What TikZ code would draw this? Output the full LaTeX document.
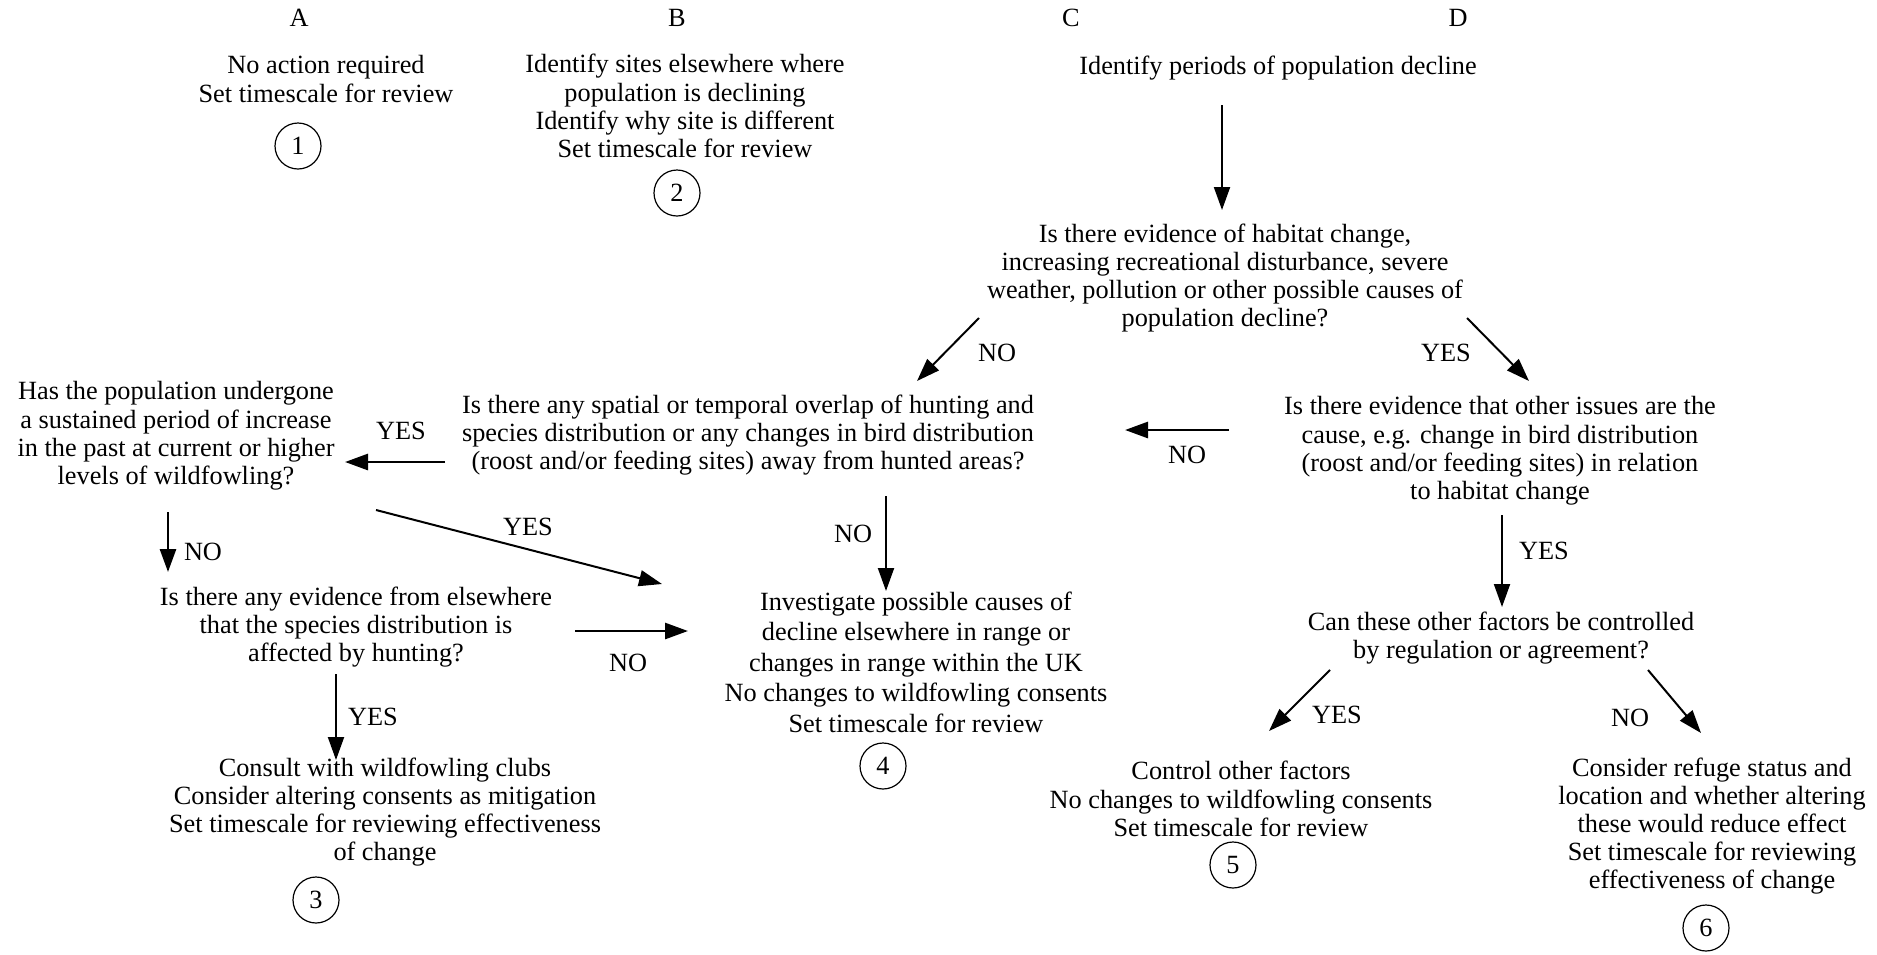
\documentclass[tikz,border=0pt]{standalone}
\usepackage{fontspec}
\setmainfont{Liberation Serif}
\usetikzlibrary{arrows.meta,calc}
\tikzset{%
  >={Triangle[width=16pt,length=23pt]},
  % Specifications for style of nodes:
        base/.style = {align=center, inner sep=0pt,
                       font=\fontsize{26.3}{28.2}\selectfont},
     heading/.style = {base},
    question/.style = {base},
      action/.style = {base},
      answer/.style = {base},
      number/.style = {base, circle, draw, line width=1.2pt,
                       minimum size=46pt},
        link/.style = {->, line width=2pt},
   boldlink/.style = {->, line width=2.8pt},
}

\begin{document}
\begin{tikzpicture}[x=1pt, y=-1pt]
\useasboundingbox (0,0) rectangle (1877,954);

% column headings
\node (HA) [heading] at (299,18)  {A};
\node (HB) [heading] at (677,18)  {B};
\node (HC) [heading] at (1071,18) {C};
\node (HD) [heading] at (1458,18) {D};

% outcomes 1 and 2
\node (NA) [action] at (326,79)  {No action required\\Set timescale for review};
\node (N1) [number] at (298,146) {1};

\node (IS) [action] at (685,106) {Identify sites elsewhere where\\population is declining\\Identify why site is different\\Set timescale for review};
\node (N2) [number] at (677,193) {2};

% main chain
\node (PD) [action] at (1278,68) {Identify periods of population decline};

\node (HBC) [question] at (1225,278) {Is there evidence of habitat change,\\increasing recreational disturbance, severe\\weather, pollution or other possible causes of\\population decline?};

\node (OV) [question] at (748,435) {Is there any spatial or temporal overlap of hunting and\\species distribution or any changes in bird distribution\\(roost and/or feeding sites) away from hunted areas?};

\node (OI) [question] at (1500,451) {Is there evidence that other issues are the\\cause, e.g. change in bird distribution\\(roost and/or feeding sites) in relation\\to habitat change};

\node (PI) [question] at (176,436) {Has the population undergone\\a sustained period of increase\\in the past at current or higher\\levels of wildfowling?};

\node (EE) [question] at (356,627) {Is there any evidence from elsewhere\\that the species distribution is\\affected by hunting?};

\node (CW) [action] at (385,812) {Consult with wildfowling clubs\\Consider altering consents as mitigation\\Set timescale for reviewing effectiveness\\of change};
\node (N3) [number] at (316,900) {3};

\node (IC) [action, font=\fontsize{26.3}{30.5}\selectfont] at (916,662) {Investigate possible causes of\\decline elsewhere in range or\\changes in range within the UK\\No changes to wildfowling consents\\Set timescale for review};
\node (N4) [number] at (883,766) {4};

\node (CF) [question] at (1501,638) {Can these other factors be controlled\\by regulation or agreement?};

\node (CO) [action] at (1241,799) {Control other factors\\No changes to wildfowling consents\\Set timescale for review};
\node (N5) [number] at (1233,865) {5};

\node (CR) [action] at (1712,826) {Consider refuge status and\\location and whether altering\\these would reduce effect\\Set timescale for reviewing\\effectiveness of change};
\node (N6) [number] at (1706,928) {6};

% answers
\node (A1) [answer] at (997,353)  {NO};
\node (A2) [answer] at (1446,353) {YES};
\node (A3) [answer] at (1187,455) {NO};
\node (A4) [answer] at (401,431)  {YES};
\node (A5) [answer] at (203,552)  {NO};
\node (A6) [answer] at (528,527)  {YES};
\node (A7) [answer] at (853,534)  {NO};
\node (A8) [answer] at (628,663)  {NO};
\node (A9) [answer] at (373,717)  {YES};
\node (A10) [answer] at (1544,551) {YES};
\node (A11) [answer] at (1337,715) {YES};
\node (A12) [answer] at (1630,718) {NO};

\draw[link]     ($(PD)+(-56,37)$)   -- ($(HBC)+(-3,-68)$);
\draw[link]     ($(HBC)+(-246,40)$) -- ($(OV)+(169,-54)$);
\draw[link]     ($(HBC)+(242,40)$)  -- ($(OI)+(29,-70)$);
\draw[boldlink] ($(OI)+(-271,-21)$) -- ($(OV)+(377,-5)$);
\draw[boldlink] ($(OV)+(-303,27)$)  -- ($(PI)+(169,26)$);
\draw[boldlink] ($(PI)+(-8,76)$)    -- ($(EE)+(-188,-55)$);
\draw[link]     ($(PI)+(200,74)$)   -- ($(IC)+(-254,-78)$);
\draw[link]     ($(OV)+(138,61)$)   -- ($(IC)+(-30,-71)$);
\draw[boldlink] ($(EE)+(219,4)$)    -- ($(IC)+(-228,-31)$);
\draw[link]     ($(EE)+(-20,47)$)   -- ($(CW)+(-49,-52)$);
\draw[link]     ($(OI)+(2,64)$)     -- ($(CF)+(1,-31)$);
\draw[link]     ($(CF)+(-171,32)$)  -- ($(CO)+(28,-68)$);
\draw[link]     ($(CF)+(147,32)$)   -- ($(CR)+(-11,-93)$);
\end{tikzpicture}
\end{document}
